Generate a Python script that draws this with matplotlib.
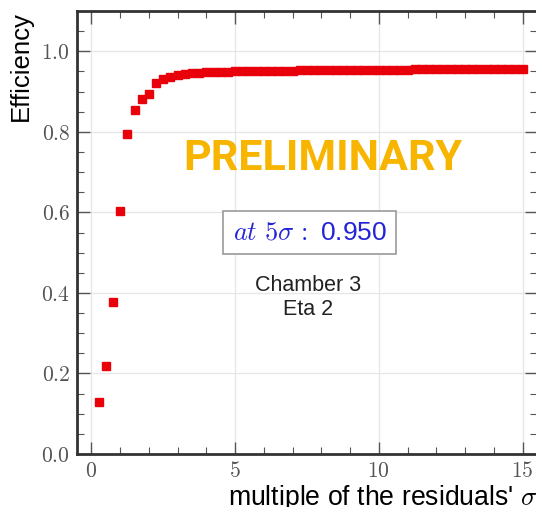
import numpy as np
import matplotlib
matplotlib.use("Agg")
import matplotlib.pyplot as plt
from matplotlib.ticker import MultipleLocator, FuncFormatter

# efficiency vs. cut in multiples of the residuals' sigma
sigma_cut = np.arange(1, 61) * 0.25
efficiency = [
    0.129, 0.218, 0.377, 0.604, 0.794, 0.855, 0.882, 0.893, 0.921, 0.932,
    0.936, 0.940, 0.943, 0.945, 0.947, 0.948, 0.948, 0.949, 0.949, 0.950,
    0.950, 0.951, 0.951, 0.951, 0.951, 0.951, 0.951, 0.952, 0.953, 0.953,
    0.953, 0.953, 0.953, 0.953, 0.953, 0.954, 0.954, 0.954, 0.954, 0.954,
    0.954, 0.954, 0.954, 0.954, 0.955, 0.955, 0.955, 0.955, 0.955, 0.955,
    0.955, 0.955, 0.955, 0.955, 0.955, 0.955, 0.955, 0.955, 0.955, 0.955,
]
eff_at_5 = 0.950
chamber = 3
eta = 2

plt.rcParams['mathtext.fontset'] = 'cm'
plt.rcParams['font.family'] = ['Liberation Sans', 'DejaVu Sans']

fig = plt.figure(figsize=(5.36, 5.07), dpi=100)
ax = fig.add_axes([0.1437, 0.1045, 0.858, 0.8738])

ax.plot(sigma_cut, efficiency, ls='none', marker='s', ms=5.2, color='#e8000b',
        mec='#e8000b', zorder=3)

ax.set_xlim(-0.5, 15.5)
ax.set_ylim(0, 1.1)
ax.xaxis.set_major_locator(MultipleLocator(5))
ax.xaxis.set_minor_locator(MultipleLocator(1))
ax.yaxis.set_major_locator(MultipleLocator(0.2))
ax.yaxis.set_minor_locator(MultipleLocator(0.05))
ax.xaxis.set_major_formatter(FuncFormatter(lambda v, p: f'${v:.0f}$'))
ax.yaxis.set_major_formatter(FuncFormatter(lambda v, p: f'${v:.1f}$'))

ax.tick_params(which='both', direction='in', top=True, right=True,
               color='#555555', labelcolor='#555555', labelsize=15.5)
ax.tick_params(which='major', length=9, width=1, pad=5)
ax.tick_params(which='minor', length=5, width=0.8)
for s in ax.spines.values():
    s.set_linewidth(2)
    s.set_color('#333333')
ax.grid(True, which='major', color='#e6e6e6', lw=0.9)
ax.set_axisbelow(True)

ax.set_ylabel('Efficiency', fontsize=18.5, loc='top', labelpad=6)
ax.set_xlabel("multiple of the residuals' $\\sigma$", fontsize=19.2,
              loc='right', labelpad=1)

ax.text(8.05, 0.735, 'PRELIMINARY', color='#f7b500', fontsize=31,
        fontweight='bold', family='Roboto', ha='center', va='center')
ax.text(7.6, 0.549, f'$at\\ 5\\sigma\\,:$ {eff_at_5:.3f}', color='#2424d8',
        fontsize=19, ha='center', va='center',
        bbox=dict(boxstyle='square,pad=0.36', fc='white', ec='#999999', lw=1.2))
ax.text(7.55, 0.389, f'Chamber {chamber}\nEta {eta}', color='#222222',
        fontsize=15.5, ha='center', va='center', linespacing=1.2)

fig.savefig('out.png', dpi=100)
